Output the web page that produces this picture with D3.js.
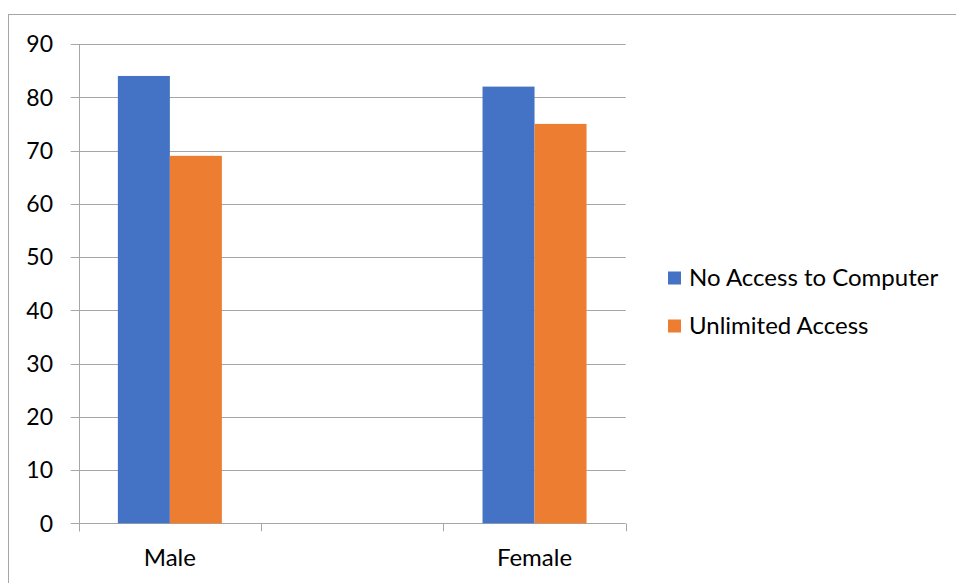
<!DOCTYPE html>
<html>
<head>
<meta charset="utf-8">
<script src="https://cdn.jsdelivr.net/npm/d3@7"></script>
<style>
  html, body { margin: 0; padding: 0; background: #fff; }
  svg { display: block; font-family: Lato, "Open Sans", sans-serif; }
</style>
</head>
<body>
<svg id="chart" width="956" height="583"></svg>
<script>
const categories = ["Male", "", "Female"];
const seriesNames = ["No Access to Computer", "Unlimited Access"];
const noAccess = [84, null, 82];
const unlimited = [69, null, 75];
const yTicks = [0, 10, 20, 30, 40, 50, 60, 70, 80, 90];
const colors = ["#4472C4", "#ED7D31"];

const svg = d3.select("#chart");
const W = 956, H = 583;
const plot = { left: 78.7, right: 625.7, top: 44, bottom: 523.3 };
const FS = 24;

// outer chart border
svg.append("rect")
  .attr("x", 8.5).attr("y", 14.5)
  .attr("width", W + 20).attr("height", H + 20)
  .attr("fill", "none").attr("stroke", "#a6a6a6").attr("stroke-width", 1);

const x = d3.scaleBand().domain(d3.range(categories.length))
  .range([plot.left, plot.right]).paddingInner(0).paddingOuter(0);
const y = d3.scaleLinear().domain([0, 90]).range([plot.bottom, plot.top]);

// gridlines
svg.append("g").selectAll("line").data(yTicks).join("line")
  .attr("x1", plot.left - 8).attr("x2", plot.right)
  .attr("y1", d => Math.round(y(d)) + 0.5).attr("y2", d => Math.round(y(d)) + 0.5)
  .attr("stroke", "#a6a6a6").attr("stroke-width", 1);

// y axis line
svg.append("line")
  .attr("x1", Math.round(plot.left) + 0.5).attr("x2", Math.round(plot.left) + 0.5)
  .attr("y1", plot.top).attr("y2", plot.bottom + 8)
  .attr("stroke", "#a6a6a6");

// x ticks
const xTickPos = d3.range(categories.length + 1).map(i => i < categories.length ? x(i) : x(i - 1) + x.bandwidth());
svg.append("g").selectAll("line").data(xTickPos).join("line")
  .attr("x1", d => Math.round(d) + 0.5).attr("x2", d => Math.round(d) + 0.5)
  .attr("y1", Math.round(plot.bottom) + 0.5).attr("y2", plot.bottom + 8)
  .attr("stroke", "#a6a6a6");

// y labels
svg.append("g").selectAll("text").data(yTicks).join("text")
  .attr("x", 53).attr("y", d => y(d))
  .attr("dy", "0.36em")
  .attr("text-anchor", "end")
  .attr("font-size", FS - 1).attr("fill", "#000")
  .text(d => d);

// x labels
svg.append("g").selectAll("text").data(categories).join("text")
  .attr("x", (d, i) => x(i) + x.bandwidth() / 2)
  .attr("y", 566)
  .attr("text-anchor", "middle")
  .attr("font-size", FS).attr("fill", "#000")
  .text(d => d);

// bars
const barW = 52;
const series = [noAccess, unlimited];
const inner = d3.scaleBand().domain([0, 1]).range([-barW, barW]);
series.forEach((vals, s) => {
  svg.append("g").selectAll("rect")
    .data(vals.map((v, i) => ({ v, i })).filter(d => d.v != null))
    .join("rect")
    .attr("x", d => x(d.i) + x.bandwidth() / 2 + inner(s))
    .attr("width", inner.bandwidth())
    .attr("y", d => y(d.v))
    .attr("height", d => y(0) - y(d.v))
    .attr("fill", colors[s]);
});

// legend
const legend = svg.append("g");
seriesNames.forEach((name, i) => {
  const cy = 278 + i * 48;
  legend.append("rect").attr("x", 668).attr("y", cy - 6.5)
    .attr("width", 13).attr("height", 13).attr("fill", colors[i]);
  legend.append("text").attr("x", 689).attr("y", cy + 8)
    .attr("font-size", FS).attr("fill", "#000").text(name);
});
</script>
</body>
</html>
